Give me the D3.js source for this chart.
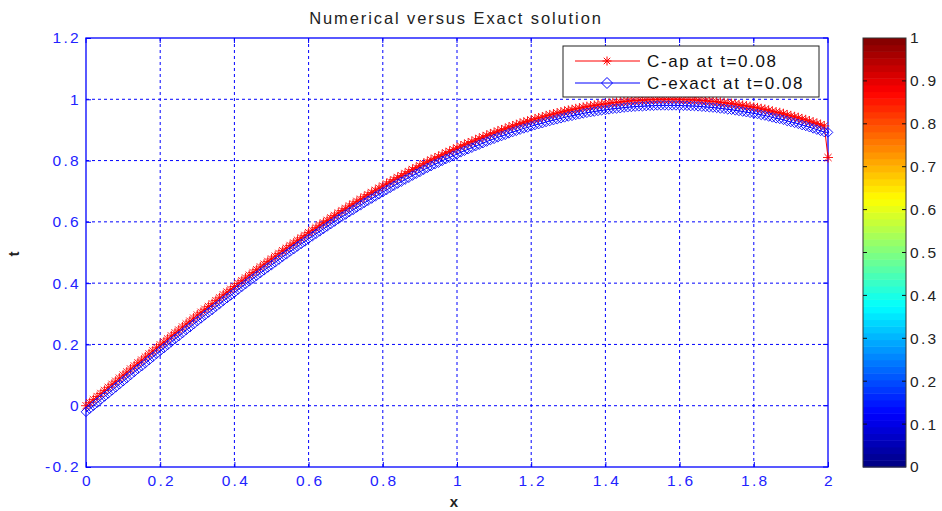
<!DOCTYPE html>
<html>
<head>
<meta charset="utf-8">
<script src="https://cdn.jsdelivr.net/npm/d3@7"></script>
<style>
  body { margin: 0; background: #fff; }
  svg { display: block; font-family: "Liberation Sans", Arial, sans-serif; }
</style>
</head>
<body>
<svg id="chart" width="942" height="511"></svg>
<script>
// x grid: 0 .. 2 step 0.01 (201 points)
const xStep = 0.01;

// C-ap at t=0.08 (numerical)
const cAp = [
  0.000,0.010,0.020,0.030,0.040,0.050,0.060,0.070,0.080,0.090,
  0.100,0.110,0.120,0.130,0.140,0.149,0.159,0.169,0.179,0.189,
  0.199,0.208,0.218,0.228,0.238,0.247,0.257,0.267,0.276,0.286,
  0.296,0.305,0.315,0.324,0.333,0.343,0.352,0.362,0.371,0.380,
  0.389,0.399,0.408,0.417,0.426,0.435,0.444,0.453,0.462,0.471,
  0.479,0.488,0.497,0.506,0.514,0.523,0.531,0.540,0.548,0.556,
  0.565,0.573,0.581,0.589,0.597,0.605,0.613,0.621,0.629,0.637,
  0.644,0.652,0.659,0.667,0.674,0.682,0.689,0.696,0.703,0.710,
  0.717,0.724,0.731,0.738,0.745,0.751,0.758,0.764,0.771,0.777,
  0.783,0.790,0.796,0.802,0.808,0.813,0.819,0.825,0.830,0.836,
  0.841,0.847,0.852,0.857,0.862,0.867,0.872,0.877,0.882,0.887,
  0.891,0.896,0.900,0.904,0.909,0.913,0.917,0.921,0.925,0.928,
  0.932,0.936,0.939,0.942,0.946,0.949,0.952,0.955,0.958,0.961,
  0.964,0.966,0.969,0.971,0.974,0.976,0.978,0.980,0.982,0.984,
  0.985,0.987,0.989,0.990,0.991,0.993,0.994,0.995,0.996,0.997,
  0.997,0.998,0.999,0.999,1.000,1.000,1.000,1.000,1.000,1.000,
  1.000,0.999,0.999,0.998,0.998,0.997,0.996,0.995,0.994,0.993,
  0.992,0.990,0.989,0.987,0.986,0.984,0.982,0.980,0.978,0.976,
  0.974,0.972,0.969,0.967,0.964,0.961,0.958,0.956,0.953,0.949,
  0.946,0.943,0.940,0.936,0.933,0.929,0.925,0.921,0.917,0.913,
  0.810
];

// C-exact at t=0.08
const cExact = [
  -0.020,-0.010,0.000,0.010,0.020,0.030,0.040,0.050,0.060,0.070,
  0.080,0.090,0.100,0.110,0.120,0.129,0.139,0.149,0.159,0.169,
  0.179,0.188,0.198,0.208,0.218,0.227,0.237,0.247,0.256,0.266,
  0.276,0.285,0.295,0.304,0.313,0.323,0.332,0.342,0.351,0.360,
  0.369,0.379,0.388,0.397,0.406,0.415,0.424,0.433,0.442,0.451,
  0.459,0.468,0.477,0.486,0.494,0.503,0.511,0.520,0.528,0.536,
  0.545,0.553,0.561,0.569,0.577,0.585,0.593,0.601,0.609,0.617,
  0.624,0.632,0.639,0.647,0.654,0.662,0.669,0.676,0.683,0.690,
  0.697,0.704,0.711,0.718,0.725,0.731,0.738,0.744,0.751,0.757,
  0.763,0.770,0.776,0.782,0.788,0.793,0.799,0.805,0.810,0.816,
  0.821,0.827,0.832,0.837,0.842,0.847,0.852,0.857,0.862,0.867,
  0.871,0.876,0.880,0.884,0.889,0.893,0.897,0.901,0.905,0.908,
  0.912,0.916,0.919,0.922,0.926,0.929,0.932,0.935,0.938,0.941,
  0.944,0.946,0.949,0.951,0.954,0.956,0.958,0.960,0.962,0.964,
  0.965,0.967,0.969,0.970,0.971,0.973,0.974,0.975,0.976,0.977,
  0.977,0.978,0.979,0.979,0.980,0.980,0.980,0.980,0.980,0.980,
  0.980,0.979,0.979,0.978,0.978,0.977,0.976,0.975,0.974,0.973,
  0.972,0.970,0.969,0.967,0.966,0.964,0.962,0.960,0.958,0.956,
  0.954,0.952,0.949,0.947,0.944,0.941,0.938,0.936,0.933,0.929,
  0.926,0.923,0.920,0.916,0.913,0.909,0.905,0.901,0.897,0.893,
  0.892
];

const xTicks = [0, 0.2, 0.4, 0.6, 0.8, 1, 1.2, 1.4, 1.6, 1.8, 2];
const yTicks = [-0.2, 0, 0.2, 0.4, 0.6, 0.8, 1, 1.2];
const cbTicks = [0, 0.1, 0.2, 0.3, 0.4, 0.5, 0.6, 0.7, 0.8, 0.9, 1];
const legendLabels = ['C-ap at t=0.08', 'C-exact at t=0.08'];
const titleText = 'Numerical versus Exact solution';

const axisBlue = '#0000ff';
const labelBlue = '#2222ff';
const fmt = d => String(+d.toFixed(1));

const svg = d3.select('#chart');
const plot = { left: 86, right: 828, top: 38, bottom: 467 };

const x = d3.scaleLinear().domain([0, 2]).range([plot.left, plot.right]);
const y = d3.scaleLinear().domain([-0.2, 1.2]).range([plot.bottom, plot.top]);

// grid
const grid = svg.append('g');
grid.selectAll('.gx').data(xTicks.slice(1, -1)).enter().append('line')
  .attr('x1', d => x(d)).attr('x2', d => x(d))
  .attr('y1', plot.top).attr('y2', plot.bottom)
  .attr('stroke', axisBlue).attr('stroke-width', 1).attr('stroke-dasharray', '3,3');
grid.selectAll('.gy').data(yTicks.slice(1, -1)).enter().append('line')
  .attr('y1', d => y(d)).attr('y2', d => y(d))
  .attr('x1', plot.left).attr('x2', plot.right)
  .attr('stroke', axisBlue).attr('stroke-width', 1).attr('stroke-dasharray', '3,3');

// axes (ticks inward, MATLAB style)
const xAxis = svg.append('g').attr('transform', `translate(0,${plot.bottom})`)
  .call(d3.axisBottom(x).tickValues(xTicks).tickSize(-5).tickPadding(8).tickFormat(fmt));
const yAxis = svg.append('g').attr('transform', `translate(${plot.left},0)`)
  .call(d3.axisLeft(y).tickValues(yTicks).tickSize(-5).tickPadding(5).tickFormat(fmt));
[xAxis, yAxis].forEach(a => {
  a.select('.domain').remove();
  a.selectAll('line').attr('stroke', axisBlue);
  a.selectAll('text').attr('fill', labelBlue).style('font-size', '15.5px')
    .style('letter-spacing', '2.3px')
    .style('font-family', '"Liberation Sans", Arial, sans-serif');
});
xAxis.selectAll('text').attr('dy', '0.71em').attr('dx', '1px');
// top / right tick marks
svg.append('g').selectAll('line').data(xTicks).enter().append('line')
  .attr('x1', d => x(d)).attr('x2', d => x(d)).attr('y1', plot.top).attr('y2', plot.top + 5)
  .attr('stroke', axisBlue);
svg.append('g').selectAll('line').data(yTicks).enter().append('line')
  .attr('y1', d => y(d)).attr('y2', d => y(d)).attr('x1', plot.right).attr('x2', plot.right - 5)
  .attr('stroke', axisBlue);

svg.append('rect')
  .attr('x', plot.left).attr('y', plot.top)
  .attr('width', plot.right - plot.left).attr('height', plot.bottom - plot.top)
  .attr('fill', 'none').attr('stroke', axisBlue).attr('stroke-width', 1.3);

// marker shapes
function starPath(s) {
  const d = s * 0.72;
  return `M${-s},0H${s}M0,${-s}V${s}M${-d},${-d}L${d},${d}M${-d},${d}L${d},${-d}`;
}
function diamondPath(s) {
  return `M0,${-s}L${s},0L0,${s}L${-s},0Z`;
}

const series = [
  { values: cAp, color: '#ff0000', marker: starPath(5), legendMarker: starPath(4.5) },
  { values: cExact, color: '#0000ff', marker: diamondPath(4.8), legendMarker: diamondPath(5.5) }
];

const line = d3.line().x((d, i) => x(i * xStep)).y(d => y(d));

series.forEach(s => {
  const g = svg.append('g');
  g.append('path').datum(s.values)
    .attr('d', line).attr('fill', 'none')
    .attr('stroke', s.color).attr('stroke-width', 1);
  g.selectAll('path.m').data(s.values).enter().append('path')
    .attr('class', 'm')
    .attr('transform', (d, i) => `translate(${x(i * xStep)},${y(d)})`)
    .attr('d', s.marker)
    .attr('fill', 'none').attr('stroke', s.color).attr('stroke-width', 0.9);
});

// legend
const lg = svg.append('g');
lg.append('rect').attr('x', 563).attr('y', 46).attr('width', 256).attr('height', 51)
  .attr('fill', '#fff').attr('stroke', '#222').attr('stroke-width', 1);
legendLabels.forEach((lab, i) => {
  const ly = 61 + i * 22;
  const s = series[i];
  lg.append('line').attr('x1', 575).attr('x2', 640).attr('y1', ly).attr('y2', ly)
    .attr('stroke', s.color).attr('stroke-width', 1);
  lg.append('path').attr('transform', `translate(607,${ly})`).attr('d', s.legendMarker)
    .attr('fill', 'none').attr('stroke', s.color).attr('stroke-width', 1);
  lg.append('text').attr('x', 647).attr('y', ly + 6)
    .attr('fill', '#111').style('font-size', '17px').style('letter-spacing', '1.6px')
    .text(lab);
});

// title and axis labels
svg.append('text').attr('x', 456).attr('y', 24).attr('text-anchor', 'middle')
  .attr('fill', '#222').style('font-size', '16.5px').style('letter-spacing', '1.9px')
  .text(titleText);
svg.append('text').attr('x', 454).attr('y', 507).attr('text-anchor', 'middle')
  .attr('fill', '#222').style('font-size', '15px').style('font-weight', 'bold')
  .text('x');
svg.append('text').attr('transform', 'translate(19,254) rotate(-90)').attr('text-anchor', 'middle')
  .attr('fill', '#222').style('font-size', '15px').style('font-weight', 'bold')
  .text('t');

// colorbar (jet, 64 levels)
const cb = { left: 863, right: 906, top: 38, bottom: 467 };
const cy = d3.scaleLinear().domain([0, 1]).range([cb.bottom, cb.top]);
function jet(v) {
  const c = t => Math.round(255 * Math.max(0, Math.min(1, t)));
  return `rgb(${c(1.5 - Math.abs(4 * v - 3))},${c(1.5 - Math.abs(4 * v - 2))},${c(1.5 - Math.abs(4 * v - 1))})`;
}
const nLevels = 64;
svg.append('g').selectAll('rect').data(d3.range(nLevels)).enter().append('rect')
  .attr('x', cb.left)
  .attr('y', k => cy((k + 1) / nLevels))
  .attr('width', cb.right - cb.left)
  .attr('height', k => cy(k / nLevels) - cy((k + 1) / nLevels) + 0.5)
  .attr('fill', k => jet((k + 0.5) / nLevels));
svg.append('rect').attr('x', cb.left).attr('y', cb.top)
  .attr('width', cb.right - cb.left).attr('height', cb.bottom - cb.top)
  .attr('fill', 'none').attr('stroke', '#333').attr('stroke-width', 1);
const cbt = svg.append('g');
cbTicks.slice(1, -1).forEach(t => {
  cbt.append('line').attr('x1', cb.left).attr('x2', cb.left + 4).attr('y1', cy(t)).attr('y2', cy(t))
    .attr('stroke', '#111');
  cbt.append('line').attr('x1', cb.right - 4).attr('x2', cb.right).attr('y1', cy(t)).attr('y2', cy(t))
    .attr('stroke', '#111');
});
cbt.selectAll('text').data(cbTicks).enter().append('text')
  .attr('x', cb.right + 4).attr('y', d => cy(d)).attr('dy', '0.35em')
  .attr('fill', '#222').style('font-size', '15.5px').style('letter-spacing', '2.3px')
  .text(fmt);
</script>
</body>
</html>
